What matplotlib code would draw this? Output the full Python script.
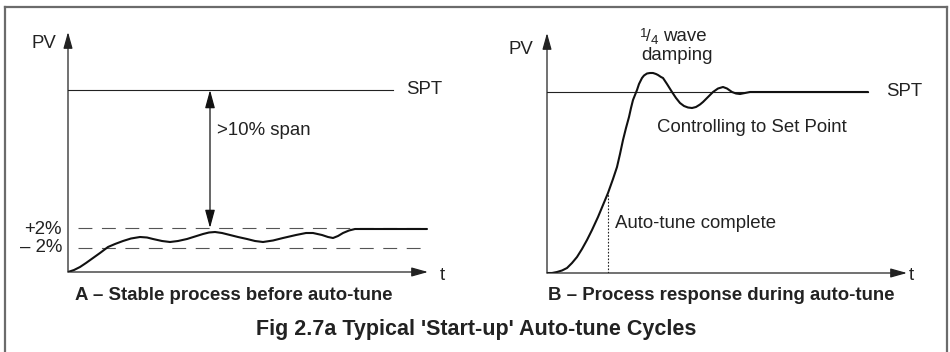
import matplotlib
matplotlib.use("Agg")
import matplotlib.pyplot as plt
from matplotlib.lines import Line2D

plt.rcParams['font.family'] = ['Liberation Sans', 'DejaVu Sans']

# ---------------- data (arbitrary schematic units) ----------------
# Panel A: stable process before auto-tune
a_t = [0, 6, 12, 18, 25, 32, 40, 47, 55, 63, 72, 79, 85, 94, 102, 110, 119,
       127, 135, 141, 147, 154, 162, 170, 179, 187, 195, 205, 215, 228, 238,
       245, 254, 260, 265, 270, 275, 281, 287, 359]
a_pv = [0, 2, 5, 9, 14, 19, 25, 28, 31, 33.5, 35, 34.5, 33, 31, 30, 31, 33,
        35.5, 38, 39.5, 40, 39, 37, 35, 33, 31, 30, 31.5, 34, 37, 39,
        39, 37, 35, 34, 36, 39, 41.5, 43, 43]
a_spt = 182
a_band_hi = 44
a_band_lo = 24
a_span_t = 142

# Panel B: process response during auto-tune
b_t = [0, 5, 10, 15, 20, 25, 30, 35, 40, 45, 51, 56, 61, 66, 70, 73, 76, 79,
       82, 84, 86, 88, 90, 92, 95, 97, 100, 103, 106, 109, 111, 114, 116, 120,
       125, 129, 133, 137, 141, 145, 149, 153, 156, 161, 166, 171, 176, 180,
       185, 189, 193, 198, 203, 321]
b_pv = [0, 0, 1, 2.5, 5, 10, 16, 24, 33, 43, 56, 68, 80, 94, 106, 119, 133, 145,
        156, 165, 173, 178, 183, 189, 195, 197.5, 199.5, 200, 200, 199, 198, 196, 195, 189,
        181, 175, 170, 167, 165.5, 165, 166, 168.5, 171, 176, 181, 184.5, 186, 184.5,
        181, 179.5, 179, 180, 181, 181]
b_spt = 181
b_tune_t = 61
b_tune_pv = 80

W, H = 950, 352
fig = plt.figure(figsize=(W / 100, H / 100), dpi=100)

def fx(px):
    return px / W

def fy(py):
    return 1 - py / H

# frame (open at bottom)
for xs, ys in [((5, 947), (7, 7)), ((5, 5), (7, 352)), ((947, 947), (7, 352))]:
    fig.add_artist(Line2D([fx(x) for x in xs], [fy(y) for y in ys],
                          color='#6b6b6b', lw=1.6))

AX_KW = dict(arrowstyle='-|>,head_length=1.0,head_width=0.28', color='#222222',
             lw=0.9, mutation_scale=10, shrinkA=0, shrinkB=0)

def make_axes(x0, y0, x1, y1):
    ax = fig.add_axes([fx(x0), fy(y0), fx(x1) - fx(x0), (y0 - y1) / H])
    ax.set_xlim(0, 360)
    ax.set_ylim(0, 240)
    ax.axis('off')
    ax.annotate('', xy=(0, 240), xytext=(0, 0), arrowprops=AX_KW,
                annotation_clip=False)
    ax.annotate('', xy=(360, 0), xytext=(0, 0), arrowprops=AX_KW,
                annotation_clip=False)
    return ax

FS = 13.4
TXT = '#222222'
# ---------------- Panel A ----------------
axA = make_axes(68, 272, 428, 32)
axA.plot([0, 325], [a_spt, a_spt], color='#222222', lw=0.8)
dash = (0, (12.5, 8.6))
axA.plot([10, 359], [a_band_hi, a_band_hi], color='#555555', lw=0.8, linestyle=dash)
axA.plot([10, 359], [a_band_lo, a_band_lo], color='#555555', lw=0.8, linestyle=dash)
axA.plot(a_t, a_pv, color='#111111', lw=1.5, solid_joinstyle='round',
         solid_capstyle='round')
axA.annotate('', xy=(a_span_t, a_band_hi), xytext=(a_span_t, a_spt),
             arrowprops=dict(arrowstyle='<|-|>,head_length=1.1,head_width=0.3',
                             color='#111111', lw=0.9, mutation_scale=10,
                             shrinkA=0, shrinkB=0))

fig.text(fx(44), fy(43), 'PV', fontsize=FS, ha='center', va='center', color=TXT)
fig.text(fx(442), fy(275), 't', fontsize=FS, ha='center', va='center', color=TXT)
fig.text(fx(406), fy(90), 'SPT', fontsize=FS, ha='left', va='center', color=TXT)
fig.text(fx(217), fy(130), '>10% span', fontsize=FS, ha='left', va='center', color=TXT)
fig.text(fx(62), fy(229), '+2%', fontsize=FS, ha='right', va='center', color=TXT)
fig.text(fx(62), fy(248), '\u2013 2%', fontsize=FS, ha='right', va='center', color=TXT)
fig.text(fx(234), fy(296), 'A \u2013 Stable process before auto-tune', fontsize=FS,
         fontweight='bold', ha='center', va='center', color=TXT)

# ---------------- Panel B ----------------
axB = make_axes(547, 273, 907, 33)
axB.plot([0, 321], [b_spt, b_spt], color='#222222', lw=0.8)
axB.plot([b_tune_t, b_tune_t], [0, b_tune_pv], color='#222222', lw=0.8,
         linestyle=(0, (1.5, 1.5)))
axB.plot(b_t, b_pv, color='#111111', lw=1.5, solid_joinstyle='round',
         solid_capstyle='round')

fig.text(fx(521), fy(50), 'PV', fontsize=FS, ha='center', va='center', color=TXT)
fig.text(fx(911), fy(276), 't', fontsize=FS, ha='center', va='center', color=TXT)
fig.text(fx(886), fy(92), 'SPT', fontsize=FS, ha='left', va='center', color=TXT)
# "1/4 wave" built from a small raised 1, a slash and a small lowered 4
fig.text(fx(639.5), fy(37), '1', fontsize=9.5, ha='left', va='baseline', color=TXT)
fig.text(fx(646), fy(41), '/', fontsize=12, ha='left', va='baseline', color=TXT)
fig.text(fx(651), fy(43.5), '4', fontsize=9.5, ha='left', va='baseline', color=TXT)
fig.text(fx(663), fy(41), 'wave', fontsize=FS, ha='left', va='baseline', color=TXT)
fig.text(fx(641), fy(60), 'damping', fontsize=FS, ha='left', va='baseline', color=TXT)
fig.text(fx(657), fy(128), 'Controlling to Set Point', fontsize=FS, ha='left',
         va='center', color=TXT)
fig.text(fx(615), fy(223), 'Auto-tune complete', fontsize=FS, ha='left',
         va='center', color=TXT)
fig.text(fx(721), fy(296), 'B \u2013 Process response during auto-tune', fontsize=FS,
         fontweight='bold', ha='center', va='center', color=TXT)

fig.text(fx(476), fy(330), "Fig 2.7a Typical 'Start-up' Auto-tune Cycles", fontsize=15.5,
         fontweight='bold', ha='center', va='center', color=TXT)

fig.savefig('out.png', dpi=100, facecolor='white')
